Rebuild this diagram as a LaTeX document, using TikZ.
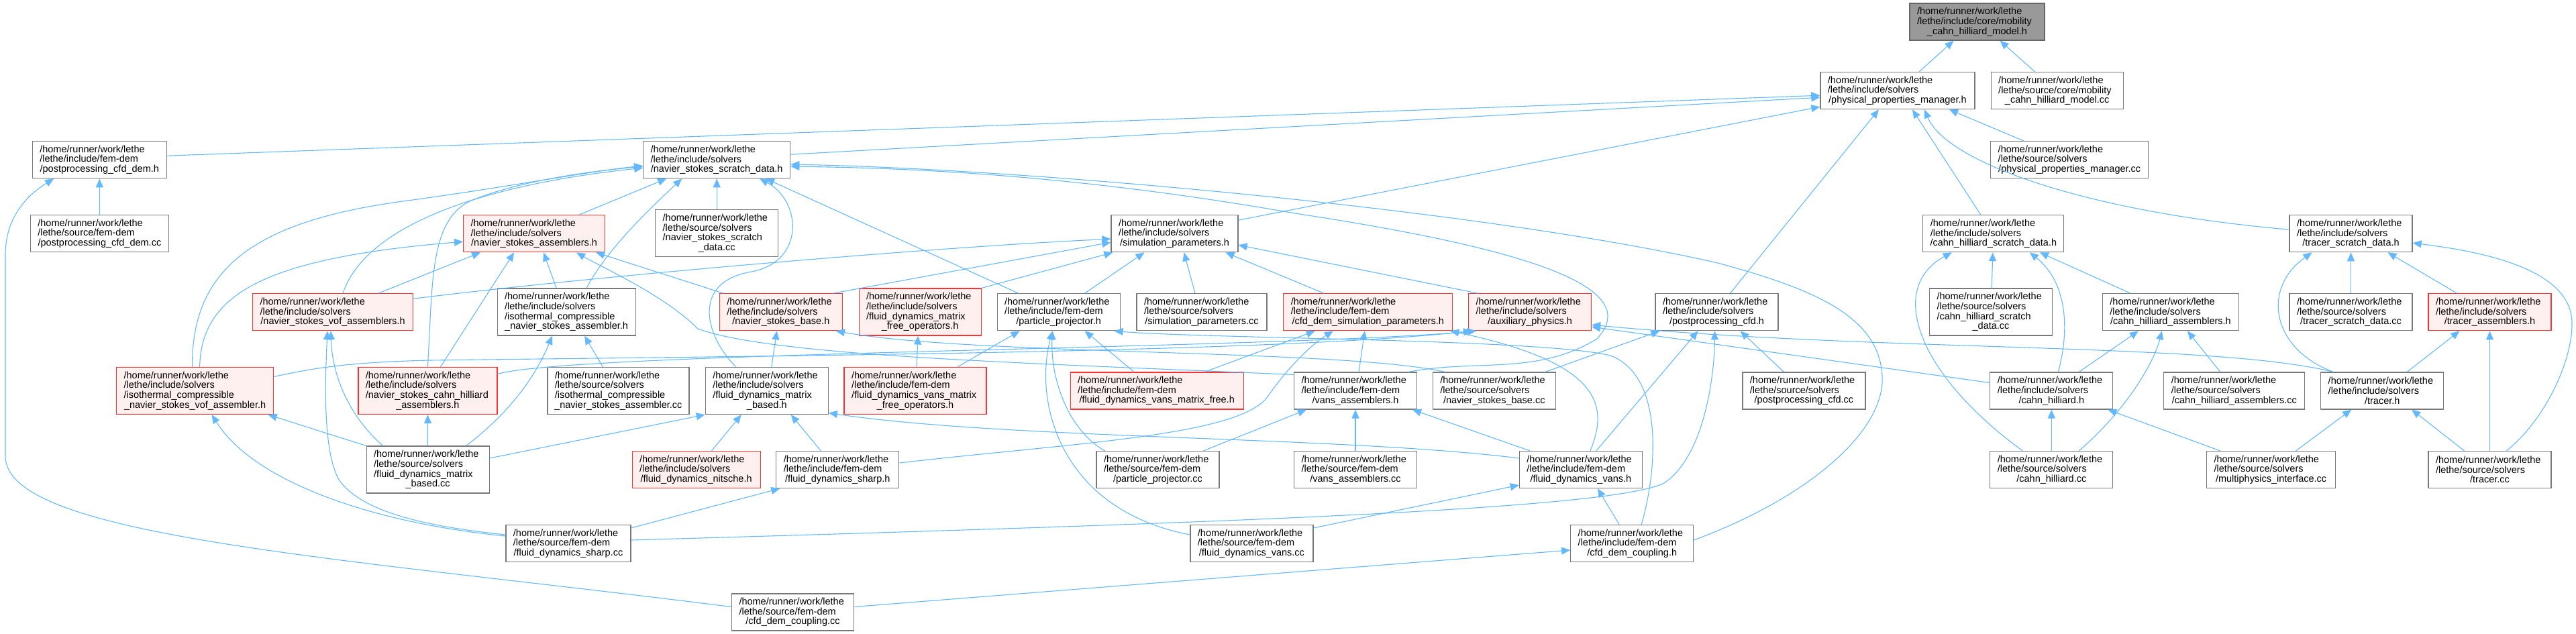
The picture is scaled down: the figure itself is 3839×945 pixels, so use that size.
\documentclass[tikz,border=0pt]{standalone}
\usepackage{fontspec}
\setmainfont{Liberation Sans}
\usetikzlibrary{arrows.meta}

\definecolor{edgeblue}{RGB}{99,184,255}
\definecolor{boxgray}{RGB}{120,120,120}
\definecolor{truncred}{RGB}{255,50,50}
\definecolor{truncfill}{RGB}{255,240,240}
\definecolor{mainfill}{RGB}{153,153,153}
\definecolor{mainedge}{RGB}{102,102,102}

\newcommand{\runpath}{/home/runner/work/lethe}
\newcommand{\lastln}[1]{\makebox[\hsize][c]{#1}}

\begin{document}
\begin{tikzpicture}[x=1pt,y=-1pt,
    incfile/.style={draw=boxgray,line width=1.2pt,fill=white,inner xsep=11pt,inner ysep=0pt,
      minimum height=55pt,align=left,font=\fontsize{14.5}{14.7}\selectfont},
    incred/.style={incfile,draw=truncred,fill=truncfill},
    tall/.style={minimum height=70pt},
    dep/.style={draw=edgeblue,line width=1.1pt,-{Triangle[length=13pt,width=11pt]}}]
  \useasboundingbox (0,0) rectangle (3839,945);

  \node[incfile,fill=mainfill,draw=mainedge,text width=179pt] (main) at (2946.5,32.5) {\runpath\\/lethe/include/core/mobility\\\lastln{\_cahn\_hilliard\_model.h}};

  \node[incfile,text width=208pt] (ppm) at (2827.9,135.2) {\runpath\\/lethe/include/solvers\\\lastln{/physical\_properties\_manager.h}};
  \node[incfile,text width=175pt] (mcc) at (3065.7,135.2) {\runpath\\/lethe/source/core/mobility\\\lastln{\_cahn\_hilliard\_model.cc}};

  \node[incfile,text width=178pt] (pcdh) at (148.3,238.2) {\runpath\\/lethe/include/fem-dem\\\lastln{/postprocessing\_cfd\_dem.h}};
  \node[incfile,text width=197pt] (nssd) at (1068.2,238.2) {\runpath\\/lethe/include/solvers\\\lastln{/navier\_stokes\_scratch\_data.h}};
  \node[incfile,text width=213pt] (ppmcc) at (3084.2,238.2) {\runpath\\/lethe/source/solvers\\\lastln{/physical\_properties\_manager.cc}};

  \node[incfile,text width=184pt] (pcdcc) at (148.4,348.2) {\runpath\\/lethe/source/fem-dem\\\lastln{/postprocessing\_cfd\_dem.cc}};
  \node[incred,text width=189pt] (nsa) at (796.1,348.2) {\runpath\\/lethe/include/solvers\\\lastln{/navier\_stokes\_assemblers.h}};
  \node[incfile,tall,text width=161pt] (nssdcc) at (1068.2,347.7) {\runpath\\/lethe/source/solvers\\/navier\_stokes\_scratch\\\lastln{\_data.cc}};
  \node[incfile,text width=167pt] (simp) at (1750.5,348.2) {\runpath\\/lethe/include/solvers\\\lastln{/simulation\_parameters.h}};
  \node[incfile,text width=188pt] (chsd) at (2970.8,348.2) {\runpath\\/lethe/include/solvers\\\lastln{/cahn\_hilliard\_scratch\_data.h}};
  \node[incfile,text width=161pt] (tsd) at (3503.5,348.2) {\runpath\\/lethe/include/solvers\\\lastln{/tracer\_scratch\_data.h}};

  \node[incred,text width=217pt] (vof) at (496,465.2) {\runpath\\/lethe/include/solvers\\\lastln{/navier\_stokes\_vof\_assemblers.h}};
  \node[incfile,tall,text width=184pt] (icnsa) at (844.1,465) {\runpath\\/lethe/include/solvers\\/isothermal\_compressible\\\lastln{\_navier\_stokes\_assembler.h}};
  \node[incred,text width=161pt] (nsb) at (1163.8,465.2) {\runpath\\/lethe/include/solvers\\\lastln{/navier\_stokes\_base.h}};
  \node[incred,tall,text width=160pt] (fdmfo) at (1371.1,465) {\runpath\\/lethe/include/solvers\\/fluid\_dynamics\_matrix\\\lastln{\_free\_operators.h}};
  \node[incfile,text width=161pt] (pp) at (1577.6,465.2) {\runpath\\/lethe/include/fem-dem\\\lastln{/particle\_projector.h}};
  \node[incfile,text width=172pt] (simpcc) at (1791,465.2) {\runpath\\/lethe/source/solvers\\\lastln{/simulation\_parameters.cc}};
  \node[incred,text width=230pt] (cfdsp) at (2038.8,465.2) {\runpath\\/lethe/include/fem-dem\\\lastln{/cfd\_dem\_simulation\_parameters.h}};
  \node[incred,text width=161pt] (aux) at (2280,465.2) {\runpath\\/lethe/include/solvers\\\lastln{/auxiliary\_physics.h}};
  \node[incfile,text width=161pt] (ppcfd) at (2558.5,465.2) {\runpath\\/lethe/include/solvers\\\lastln{/postprocessing\_cfd.h}};
  \node[incfile,tall,text width=161pt] (chsdcc) at (2967,465) {\runpath\\/lethe/source/solvers\\/cahn\_hilliard\_scratch\\\lastln{\_data.cc}};
  \node[incfile,text width=181pt] (chasm) at (3234.9,465.2) {\runpath\\/lethe/include/solvers\\\lastln{/cahn\_hilliard\_assemblers.h}};
  \node[incfile,text width=161pt] (tsdcc) at (3503.5,465.2) {\runpath\\/lethe/source/solvers\\\lastln{/tracer\_scratch\_data.cc}};
  \node[incred,text width=161pt] (trasm) at (3710.5,465.2) {\runpath\\/lethe/include/solvers\\\lastln{/tracer\_assemblers.h}};

  \node[incred,tall,text width=212pt] (isovof) at (290.6,582.5) {\runpath\\/lethe/include/solvers\\/isothermal\_compressible\\\lastln{\_navier\_stokes\_vof\_assembler.h}};
  \node[incred,tall,text width=185pt] (nschasm) at (637.4,582.5) {\runpath\\/lethe/include/solvers\\/navier\_stokes\_cahn\_hilliard\\\lastln{\_assemblers.h}};
  \node[incfile,tall,text width=189pt] (icnsacc) at (921.4,582.5) {\runpath\\/lethe/source/solvers\\/isothermal\_compressible\\\lastln{\_navier\_stokes\_assembler.cc}};
  \node[incfile,tall,text width=161pt] (fdmb) at (1142.8,582.5) {\runpath\\/lethe/include/solvers\\/fluid\_dynamics\_matrix\\\lastln{\_based.h}};
  \node[incred,tall,text width=190pt] (fdvmfo) at (1364,582.5) {\runpath\\/lethe/include/fem-dem\\/fluid\_dynamics\_vans\_matrix\\\lastln{\_free\_operators.h}};
  \node[incred,text width=236pt] (fdvmf) at (1724.2,582.5) {\runpath\\/lethe/include/fem-dem\\\lastln{/fluid\_dynamics\_vans\_matrix\_free.h}};
  \node[incfile,text width=161pt] (vansasm) at (2020,582.5) {\runpath\\/lethe/include/fem-dem\\\lastln{/vans\_assemblers.h}};
  \node[incfile,text width=161pt] (nsbcc) at (2226.8,582.5) {\runpath\\/lethe/source/solvers\\\lastln{/navier\_stokes\_base.cc}};
  \node[incfile,text width=161pt] (ppcfdcc) at (2688.4,582.5) {\runpath\\/lethe/source/solvers\\\lastln{/postprocessing\_cfd.cc}};
  \node[incfile,text width=161pt] (ch) at (3057.3,582.5) {\runpath\\/lethe/include/solvers\\\lastln{/cahn\_hilliard.h}};
  \node[incfile,text width=188pt] (chasmcc) at (3329.8,582.5) {\runpath\\/lethe/source/solvers\\\lastln{/cahn\_hilliard\_assemblers.cc}};
  \node[incfile,text width=161pt] (tracer) at (3550.2,582.5) {\runpath\\/lethe/include/solvers\\\lastln{/tracer.h}};

  \node[incfile,tall,text width=161pt] (fdmbcc) at (637.6,700) {\runpath\\/lethe/source/solvers\\/fluid\_dynamics\_matrix\\\lastln{\_based.cc}};
  \node[incred,text width=169pt] (fdn) at (1037.6,700) {\runpath\\/lethe/include/solvers\\\lastln{/fluid\_dynamics\_nitsche.h}};
  \node[incfile,text width=161pt] (fds) at (1248.3,700) {\runpath\\/lethe/include/fem-dem\\\lastln{/fluid\_dynamics\_sharp.h}};
  \node[incfile,text width=161pt] (ppcc) at (1725.5,700) {\runpath\\/lethe/source/fem-dem\\\lastln{/particle\_projector.cc}};
  \node[incfile,text width=161pt] (vansasmcc) at (2020,700) {\runpath\\/lethe/source/fem-dem\\\lastln{/vans\_assemblers.cc}};
  \node[incfile,text width=161pt] (fdvans) at (2355.9,700) {\runpath\\/lethe/include/fem-dem\\\lastln{/fluid\_dynamics\_vans.h}};
  \node[incfile,text width=161pt] (chcc) at (3057.3,700) {\runpath\\/lethe/source/solvers\\\lastln{/cahn\_hilliard.cc}};
  \node[incfile,text width=170pt] (micc) at (3384.6,700) {\runpath\\/lethe/source/solvers\\\lastln{/multiphysics\_interface.cc}};
  \node[incfile,text width=161pt] (tracercc) at (3710.5,700) {\runpath\\/lethe/source/solvers\\\lastln{/tracer.cc}};

  \node[incfile,text width=164pt] (fdscc) at (846.9,810) {\runpath\\/lethe/source/fem-dem\\\lastln{/fluid\_dynamics\_sharp.cc}};
  \node[incfile,text width=161pt] (fdvanscc) at (1865.4,810) {\runpath\\/lethe/source/fem-dem\\\lastln{/fluid\_dynamics\_vans.cc}};
  \node[incfile,text width=161pt] (cdch) at (2432.2,810) {\runpath\\/lethe/include/fem-dem\\\lastln{/cfd\_dem\_coupling.h}};

  \node[incfile,text width=160pt] (cdccc) at (1181.5,912.5) {\runpath\\/lethe/source/fem-dem\\\lastln{/cfd\_dem\_coupling.cc}};

  \draw[dep] ([xshift=32pt]ppm.north) -- ([xshift=-35pt]main.south);
  \draw[dep] ([xshift=-33pt]mcc.north) -- ([xshift=34pt]main.south);

  \draw[dep] ([yshift=6pt]pcdh.east) -- ([yshift=-7pt]ppm.west);
  \draw[dep] ([yshift=8pt]nssd.east) -- ([yshift=-10pt]ppm.west);
  \draw[dep] ([yshift=20pt]simp.east) -- ([yshift=-24pt]ppm.west);
  \draw[dep] ([xshift=20pt]ppcfd.north) -- ([xshift=-28pt]ppm.south);
  \draw[dep] ([xshift=-19pt]chsd.north) -- ([xshift=22pt]ppm.south);
  \draw[dep] ([yshift=6pt]tsd.west) .. controls (3100,315) and (2900,240) .. ([xshift=40pt]ppm.south);
  \draw[dep] ([xshift=-68pt]ppmcc.north) -- ([xshift=77pt]ppm.south);

  \draw[dep] (pcdcc) -- (pcdh);
  \draw[dep] ([yshift=8pt]cdccc.west) .. controls (500,830) and (8,800) .. (8,680) -- (8,380) .. controls (8,320) and (45,288) .. ([xshift=-68pt]pcdh.south);

  \draw[dep] ([xshift=67pt]nsa.north) -- ([xshift=-75pt]nssd.south);
  \draw[dep] ([xshift=30pt]icnsa.north) .. controls (905,370) and (975,305) .. ([xshift=-52pt]nssd.south);
  \draw[dep] (nssdcc) -- (nssd);
  \draw[dep] ([xshift=-46pt]fdmb.north) .. controls (1050,500) and (1030,420) .. (1120,405) .. controls (1200,390) and (1195,300) .. ([xshift=64pt]nssd.south);
  \draw[dep] ([xshift=-60pt]pp.north) -- ([xshift=73pt]nssd.south);
  \draw[dep] ([xshift=-4pt]isovof.north) .. controls (285,400) and (380,330) .. (600,300) .. controls (750,280) and (880,255) .. ([yshift=-9pt]nssd.west);
  \draw[dep] ([xshift=15pt]vof.north) .. controls (540,350) and (680,280) .. ([yshift=-12pt]nssd.west);
  \draw[dep] (nschasm.north) .. controls (645,420) and (640,330) .. (700,300) .. controls (770,270) and (880,255) .. ([yshift=-10pt]nssd.west);
  \draw[dep] ([yshift=5pt]cdch.east) .. controls (2700,740) and (2810,640) .. (2805,560) .. controls (2800,470) and (2700,430) .. (2560,392) .. controls (2200,310) and (1500,250) .. ([yshift=-7pt]nssd.east);
  \draw[dep] ([xshift=79pt]vansasm.north) .. controls (2200,535) and (2290,560) .. (2380,505) .. controls (2440,440) and (2340,380) .. (1930,318) .. controls (1600,260) and (1350,250) .. ([yshift=-10pt]nssd.east);

  \draw[dep] ([xshift=7pt]isovof.north) .. controls (300,440) and (390,385) .. ([yshift=-12pt]nsa.west);
  \draw[dep] ([xshift=68pt]vof.north) -- ([xshift=-80pt]nsa.south);
  \draw[dep] ([xshift=19pt]nschasm.north) -- ([xshift=-30pt]nsa.south);
  \draw[dep] ([xshift=-15pt]icnsa.north) -- ([xshift=14pt]nsa.south);
  \draw[dep] ([xshift=-86pt]nsb.north) -- ([xshift=92pt]nsa.south);
  \draw[dep] ([yshift=-4pt]vansasm.north west) .. controls (1500,540) and (1150,530) .. (1040,490) .. controls (990,440) and (900,400) .. ([xshift=63pt]nsa.south);

  \draw[dep] ([yshift=20pt]vof.east) .. controls (900,410) and (1400,368) .. ([yshift=-8pt]simp.west);
  \draw[dep] ([xshift=78pt]nsb.north) -- ([yshift=-13pt]simp.west);
  \draw[dep] (fdmfo.north east) -- ([xshift=3pt]simp.south west);
  \draw[dep] ([xshift=39pt]pp.north) -- ([xshift=-45pt]simp.south);
  \draw[dep] ([xshift=-10pt]simpcc.north) -- ([xshift=14pt]simp.south);
  \draw[dep] ([xshift=-66pt]cfdsp.north) -- ([xshift=76pt]simp.south);
  \draw[dep] ([xshift=-78pt]aux.north) -- ([yshift=-17pt]simp.east);

  \draw[dep] ([xshift=7pt]fdmb.north) -- ([xshift=-6pt]nsb.south);
  \draw[dep] ([xshift=-73pt]nsbcc.north) .. controls (2000,520) and (1450,530) .. ([xshift=82pt]nsb.south);
  \draw[dep] ([xshift=2pt]fdvmfo.north) -- ([xshift=-3pt]fdmfo.south);

  \draw[dep] ([xshift=63pt]fdvmfo.north) -- ([xshift=-58pt]pp.south);
  \draw[dep] ([yshift=13pt]fdvanscc.west) .. controls (1580,760) and (1540,600) .. ([xshift=-9pt]pp.south);
  \draw[dep] ([xshift=-79pt]ppcc.north) .. controls (1590,640) and (1565,560) .. ([xshift=-9pt]pp.south);
  \draw[dep] ([xshift=-34pt]fdvmf.north) -- ([xshift=39pt]pp.south);
  \draw[dep] ([xshift=14pt]cdch.north) .. controls (2470,700) and (2480,560) .. (2400,530) .. controls (2300,505) and (1800,505) .. ([xshift=83pt]pp.south);

  \draw[dep] ([xshift=71pt]fdvmf.north) -- ([xshift=-79pt]cfdsp.south);
  \draw[dep] ([yshift=10pt]fds.east) .. controls (1600,660) and (1850,650) .. (1890,590) .. controls (1925,540) and (1960,510) .. ([xshift=-52pt]cfdsp.south);
  \draw[dep] ([xshift=5pt]vansasm.north) -- ([xshift=-5pt]cfdsp.south);
  \draw[dep] ([xshift=14pt]fdvans.north) .. controls (2400,600) and (2380,540) .. ([xshift=-4pt]cfdsp.south east);

  \draw[dep] ([yshift=21pt]isovof.east) .. controls (470,548) and (520,540) .. (640,537) .. controls (1200,530) and (1900,525) .. ([xshift=-86pt]aux.south);
  \draw[dep] ([yshift=25pt]nschasm.east) .. controls (850,525) and (1900,520) .. ([xshift=-80pt]aux.south);
  \draw[dep] ([yshift=12pt]ch.west) -- ([yshift=-22pt]aux.east);
  \draw[dep] ([xshift=-73pt]tracer.north) .. controls (3300,510) and (2800,525) .. ([yshift=-19pt]aux.east);

  \draw[dep] ([xshift=76pt]nsbcc.north) -- ([xshift=-85pt]ppcfd.south);
  \draw[dep] ([xshift=23pt]fdvans.north) -- ([xshift=-28pt]ppcfd.south);
  \draw[dep] ([yshift=5pt]fdscc.east) .. controls (1800,780) and (2400,760) .. (2480,720) .. controls (2540,680) and (2555,560) .. ([xshift=-3pt]ppcfd.south);
  \draw[dep] ([xshift=-30pt]ppcfdcc.north) -- ([xshift=35pt]ppcfd.south);

  \draw[dep] ([xshift=-43pt]chcc.north) .. controls (2860,560) and (2810,430) .. ([xshift=-62pt]chsd.south);
  \draw[dep] ([xshift=10pt]ch.north) .. controls (3085,490) and (3080,420) .. ([xshift=54pt]chsd.south);
  \draw[dep] ([xshift=-60pt]chasm.north) -- ([xshift=69pt]chsd.south);
  \draw[dep] (chsdcc) -- (chsd);

  \draw[dep] ([xshift=-73pt]tracer.north) .. controls (3385,520) and (3370,430) .. ([xshift=-58pt]tsd.south);
  \draw[dep] (tsdcc) -- (tsd);
  \draw[dep] ([xshift=-49pt]trasm.north) -- ([xshift=55pt]tsd.south);
  \draw[dep] ([xshift=25pt]tracercc.north) .. controls (3800,620) and (3840,520) .. (3832,470) .. controls (3820,400) and (3700,375) .. ([yshift=-14pt]tsd.east);

  \draw[dep] ([xshift=41pt]ch.north) -- ([xshift=-48pt]chasm.south);
  \draw[dep] ([xshift=41pt]chcc.north) .. controls (3170,610) and (3210,540) .. ([xshift=-13pt]chasm.south);
  \draw[dep] ([xshift=-21pt]chasmcc.north) -- ([xshift=25pt]chasm.south);
  \draw[dep] (chcc) -- (ch);
  \draw[dep] ([xshift=-76pt]micc.north) -- ([xshift=-8pt]ch.south east);
  \draw[dep] ([xshift=37pt]micc.north) -- ([xshift=-46pt]tracer.south);
  \draw[dep] ([xshift=37pt]tracer.north) -- ([xshift=-45pt]trasm.south);
  \draw[dep] (tracercc) -- (trasm);
  \draw[dep] ([xshift=-38pt]tracercc.north) -- ([xshift=44pt]tracer.south);

  \draw[dep] ([yshift=13pt]fdscc.west) .. controls (640,785) and (540,765) .. (505,715) .. controls (480,670) and (485,560) .. ([xshift=-8pt]vof.south);
  \draw[dep] ([xshift=-67pt]fdmbcc.north) .. controls (520,620) and (495,560) .. ([xshift=-3pt]vof.south);
  \draw[dep] ([yshift=11pt]fdscc.west) .. controls (560,780) and (380,720) .. ([xshift=25pt]isovof.south);
  \draw[dep] ([yshift=23pt]fdscc.east) -- ([xshift=-86pt]fds.south);
  \draw[dep] (fdmbcc) -- (nschasm);
  \draw[dep] (fdmbcc.north west) -- ([xshift=109pt]isovof.south);
  \draw[dep] ([xshift=57pt]fdmbcc.north) .. controls (740,630) and (790,580) .. ([xshift=-21pt]icnsa.south);
  \draw[dep] ([yshift=17pt]fdmbcc.east) -- (fdmb.south west);
  \draw[dep] ([xshift=-23pt]icnsacc.north) -- ([xshift=27pt]icnsa.south);

  \draw[dep] ([xshift=23pt]fdn.north) -- ([xshift=-38pt]fdmb.south);
  \draw[dep] ([xshift=-25pt]fds.north) -- ([xshift=36pt]fdmb.south);
  \draw[dep] ([yshift=17pt]fdvans.west) .. controls (2000,650) and (1500,655) .. ([yshift=-33pt]fdmb.east);

  \draw[dep] ([yshift=23pt]fdvanscc.east) -- ([yshift=-23pt]fdvans.west);
  \draw[dep] ([xshift=-19pt]cdch.north) -- ([xshift=25pt]fdvans.south);
  \draw[dep] ([yshift=8pt]cdccc.east) -- ([yshift=-10pt]cdch.west);

  \draw[dep] ([xshift=68pt]ppcc.north) -- ([xshift=-73pt]vansasm.south);
  \draw[dep] (vansasmcc) -- (vansasm);
  \draw[dep] ([xshift=-76pt]fdvans.north) -- ([xshift=85pt]vansasm.south);
\end{tikzpicture}
\end{document}
